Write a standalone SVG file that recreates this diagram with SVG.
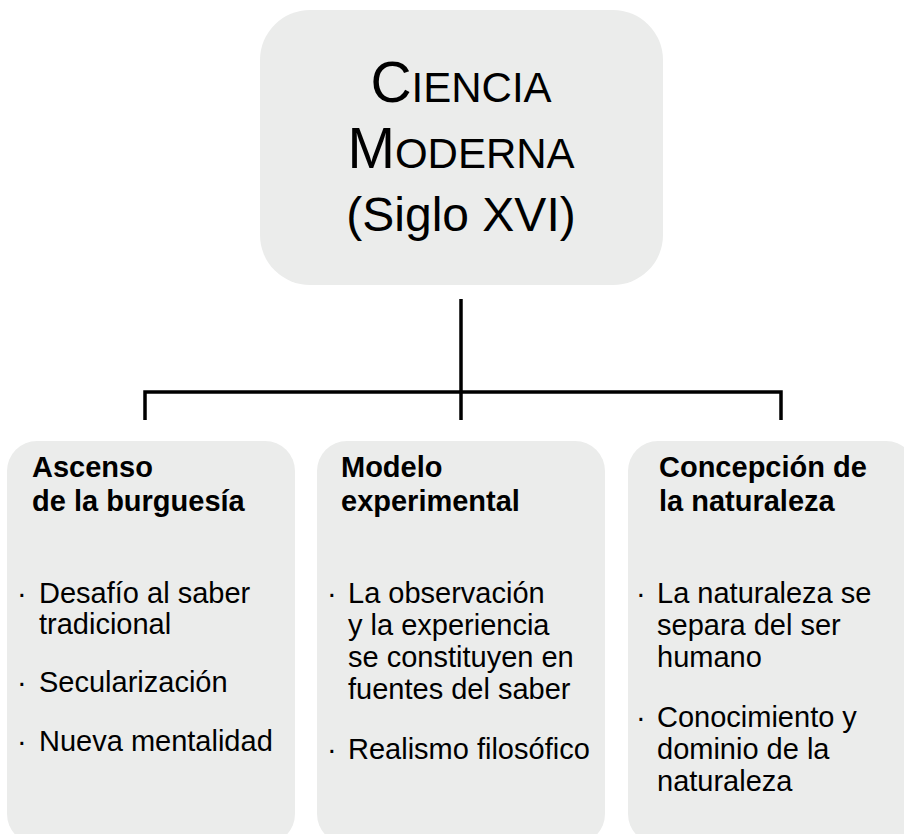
<svg xmlns="http://www.w3.org/2000/svg" width="904" height="834" viewBox="0 0 904 834">
<style>
text{font-family:"Liberation Sans",Arial,sans-serif;fill:#000}
.box{fill:#ebeceb}
.t{font-size:29px;font-weight:bold}
.b{font-size:29px}
.conn{fill:none;stroke:#000;stroke-width:3.5;stroke-linejoin:miter;stroke-linecap:butt}
</style>
<rect width="904" height="834" fill="#fff"/>
<g id="connectors">
<path class="conn" d="M461,299 V420"/>
<path class="conn" d="M145,420 V392 H781 V420"/>
</g>
<g id="root">
<rect class="box" x="260" y="10" width="403" height="275" rx="50" ry="50"/>
<text x="461" y="102" text-anchor="middle"><tspan font-size="57">C</tspan><tspan font-size="42">IENCIA</tspan></text>
<text x="461" y="168" text-anchor="middle"><tspan font-size="57">M</tspan><tspan font-size="42">ODERNA</tspan></text>
<text x="461" y="231" text-anchor="middle" font-size="48">(Siglo XVI)</text>
</g>
<g id="burguesia">
<rect class="box" x="7" y="441" width="288" height="403" rx="30" ry="30"/>
<text class="t" x="32" y="477">Ascenso</text>
<text class="t" x="32" y="511">de la burguesía</text>
<text class="b" x="17" y="603">·</text>
<text class="b" x="39" y="603">Desafío al saber</text>
<text class="b" x="39" y="634">tradicional</text>
<text class="b" x="17" y="692">·</text>
<text class="b" x="39" y="692">Secularización</text>
<text class="b" x="17" y="751">·</text>
<text class="b" x="39" y="751">Nueva mentalidad</text>
</g>
<g id="modelo">
<rect class="box" x="317" y="441" width="288" height="403" rx="30" ry="30"/>
<text class="t" x="341" y="477">Modelo</text>
<text class="t" x="341" y="511">experimental</text>
<text class="b" x="327" y="603">·</text>
<text class="b" x="348" y="603">La observación</text>
<text class="b" x="348" y="635">y la experiencia</text>
<text class="b" x="348" y="667">se constituyen en</text>
<text class="b" x="348" y="699">fuentes del saber</text>
<text class="b" x="327" y="759">·</text>
<text class="b" x="348" y="759">Realismo filosófico</text>
</g>
<g id="naturaleza">
<rect class="box" x="628" y="441" width="288" height="403" rx="30" ry="30"/>
<text class="t" x="659" y="477">Concepción de</text>
<text class="t" x="659" y="511">la naturaleza</text>
<text class="b" x="636" y="603">·</text>
<text class="b" x="657" y="603">La naturaleza se</text>
<text class="b" x="657" y="635">separa del ser</text>
<text class="b" x="657" y="667">humano</text>
<text class="b" x="636" y="727">·</text>
<text class="b" x="657" y="727">Conocimiento y</text>
<text class="b" x="657" y="759">dominio de la</text>
<text class="b" x="657" y="791">naturaleza</text>
</g>
</svg>
